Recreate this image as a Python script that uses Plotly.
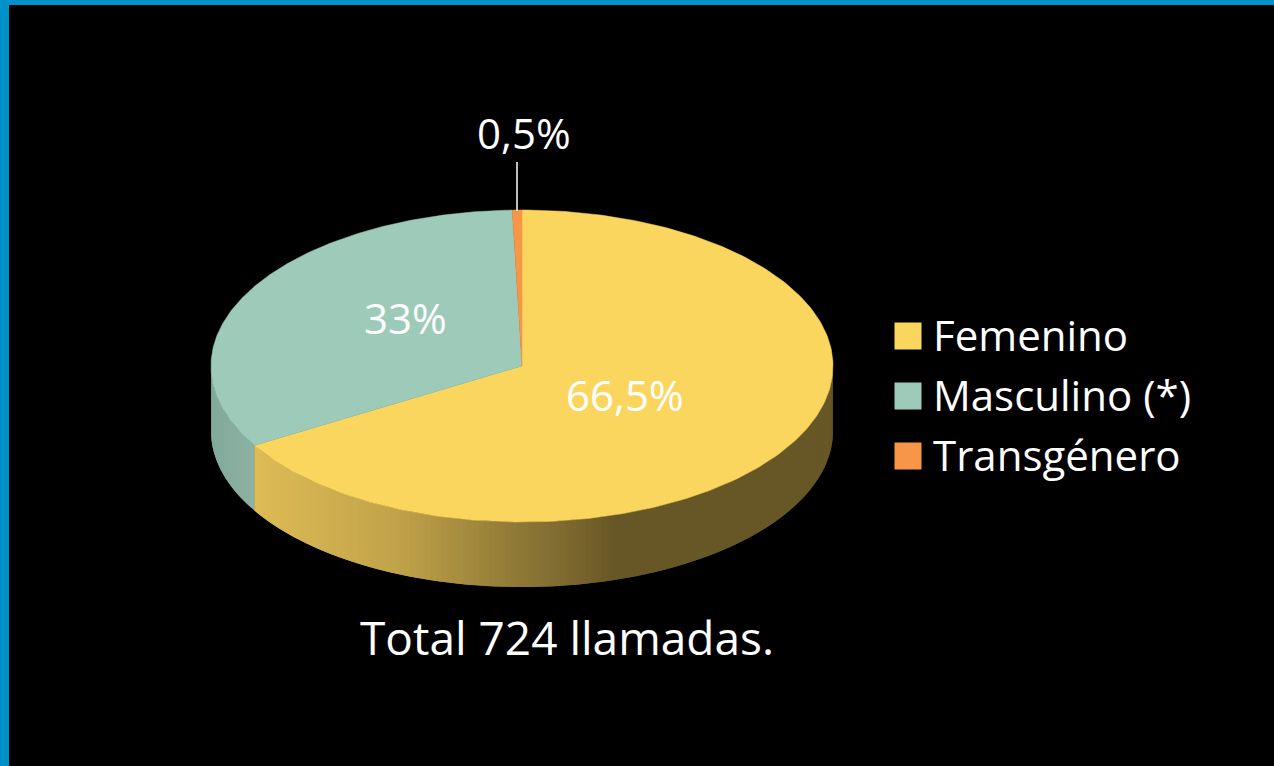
import numpy as np
import plotly.graph_objects as go

categories = ["Femenino", "Masculino (*)", "Transgénero"]
values = [66.5, 33.0, 0.5]
value_labels = ["66,5%", "33%", "0,5%"]
total_label = "Total 724 llamadas."
colors = ["#FBD65E", "#9ECBB9", "#F79646"]

W, H = 1274, 766
CX, CY, RX, RY, DEPTH = 522, 366, 311, 156, 65
FONT = "Open Sans"


def px(theta):
    return CX + RX * np.sin(np.radians(theta))


def py(theta):
    return CY - RY * np.cos(np.radians(theta))


def lerp(stops, x):
    xs = [s[0] for s in stops]
    return "rgb(%d,%d,%d)" % tuple(np.interp(x, xs, [s[1][i] for s in stops]) for i in range(3))


yellow_wall = [(255, (222, 188, 86)), (400, (192, 162, 73)), (500, (150, 127, 58)), (560, (128, 108, 49)), (615, (104, 87, 38)), (840, (104, 87, 38))]
green_wall = [(211, (130, 170, 155)), (255, (140, 178, 163))]

fig = go.Figure()

# slices, clockwise from twelve o'clock
edges = np.concatenate([[0], np.cumsum(values)]) / sum(values) * 360

# side wall (front half of the disc only); each strip overlaps the next to hide seams
for i, stops in enumerate([yellow_wall, green_wall]):
    a0, a1 = max(edges[i], 90), min(edges[i + 1], 270)
    grid = np.append(np.arange(a0, a1, 1.0), a1)
    for t0, t1 in zip(grid[:-1], grid[1:]):
        ts = np.linspace(t0, min(t1 + 1.0, a1), 4)
        xs = np.concatenate([px(ts), px(ts[::-1])])
        ys = np.concatenate([py(ts), py(ts[::-1]) + DEPTH])
        c = lerp(stops, float(px((t0 + t1) / 2)))
        fig.add_trace(go.Scatter(x=xs, y=ys, mode="lines", fill="toself", fillcolor=c,
                                 line=dict(width=0), hoverinfo="skip", showlegend=False))

# top face
for i, c in enumerate(colors):
    ts = np.linspace(edges[i], edges[i + 1], 240)
    xs = np.concatenate([[CX], px(ts), [CX]])
    ys = np.concatenate([[CY], py(ts), [CY]])
    fig.add_trace(go.Scatter(x=xs, y=ys, mode="lines", fill="toself", fillcolor=c,
                             line=dict(color=c, width=0.5), name=categories[i], showlegend=False,
                             hoverinfo="name"))

# legend
legend_y = [336, 396, 456]
fig.add_trace(go.Scatter(x=[908] * 3, y=legend_y, mode="markers",
                         marker=dict(symbol="square", size=27, color=colors),
                         hoverinfo="skip", showlegend=False))

annotations = []
for name, y in zip(categories, legend_y):
    annotations.append(dict(x=931, y=y - 2, text=name, xanchor="left", yanchor="middle", showarrow=False,
                            font=dict(family=FONT, size=42, color="white")))
label_pos = [(625, 394), (405, 317), (524, 132)]
for txt, (x, y) in zip(value_labels, label_pos):
    annotations.append(dict(x=x, y=y, text=txt, xanchor="center", yanchor="middle", showarrow=False,
                            font=dict(family=FONT, size=42, color="white")))
annotations.append(dict(x=567, y=637, text=total_label, xanchor="center", yanchor="middle", showarrow=False,
                        font=dict(family=FONT, size=46, color="white")))

shapes = [
    dict(type="rect", x0=0, x1=W, y0=0, y1=5, fillcolor="#0091CB", line_width=0, layer="above"),
    dict(type="rect", x0=0, x1=9, y0=0, y1=H, fillcolor="#0091CB", line_width=0, layer="above"),
    dict(type="line", x0=517, x1=517, y0=162, y1=211, line=dict(color="white", width=1.5), layer="above"),
]

fig.update_layout(
    width=W, height=H, margin=dict(l=0, r=0, t=0, b=0),
    paper_bgcolor="black", plot_bgcolor="black",
    xaxis=dict(range=[0, W], visible=False, fixedrange=True),
    yaxis=dict(range=[H, 0], visible=False, fixedrange=True),
    annotations=annotations, shapes=shapes, showlegend=False,
)

fig.write_html("out.html", post_script="document.body.style.margin='0';document.body.style.background='black';",
               config={"displayModeBar": False})
